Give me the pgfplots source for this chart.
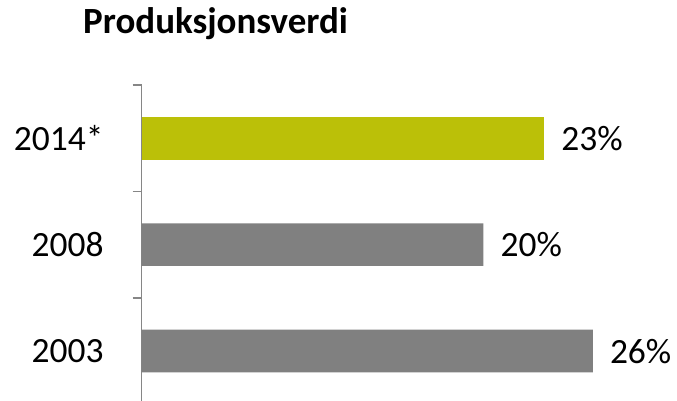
\documentclass[border=0pt]{standalone}
\usepackage{pgfplots}
\pgfplotsset{compat=1.18}
\usepackage{fontspec}
\setmainfont{Carlito}
\definecolor{barY}{RGB}{187,192,8}
\definecolor{barG}{RGB}{128,128,128}
\definecolor{axG}{RGB}{134,134,134}
\begin{document}
\begin{tikzpicture}
\path[use as bounding box] (0,0) rectangle (677bp,401bp);
\begin{axis}[
  at={(141.7bp,-3.3bp)}, anchor=south west,
  scale only axis, width=520.5bp, height=319.3bp,
  xmin=0, xmax=30, ymin=0.5, ymax=3.5,
  axis x line=none,
  axis y line*=left,
  y axis line style={draw=axG, line width=1.3bp},
  ytick={1,2,3},
  yticklabels={2003,2008,2014*},
  major tick length=0pt,
  extra y ticks={0.5,1.5,2.5,3.5},
  extra y tick labels={},
  extra y tick style={major tick length=9bp, tick style={draw=axG, line width=1.3bp}, tick align=outside},
  yticklabel style={font=\fontsize{35.6pt}{40pt}\selectfont, anchor=east, inner sep=0pt, xshift=-38bp},
  /pgf/number format/assume math mode=true,
  xbar, bar width=42.7bp, bar shift=0pt,
  clip=false,
  point meta=explicit symbolic,
  nodes near coords,
  nodes near coords style={font=\fontsize{35.6pt}{40pt}\selectfont, anchor=west, inner sep=0pt, xshift=17bp},
  title={Produksjonsverdi},
  title style={font=\fontsize{37.1pt}{42pt}\selectfont\bfseries, anchor=base west, inner sep=0pt, at={(axis description cs:-0.1128,1.144)}},
]
\addplot[fill=barG, draw=none] coordinates {(26.0,1) [26\%] (19.7,2) [20\%]};
\addplot[fill=barY, draw=none] coordinates {(23.2,3) [23\%]};
\end{axis}
\end{tikzpicture}
\end{document}
